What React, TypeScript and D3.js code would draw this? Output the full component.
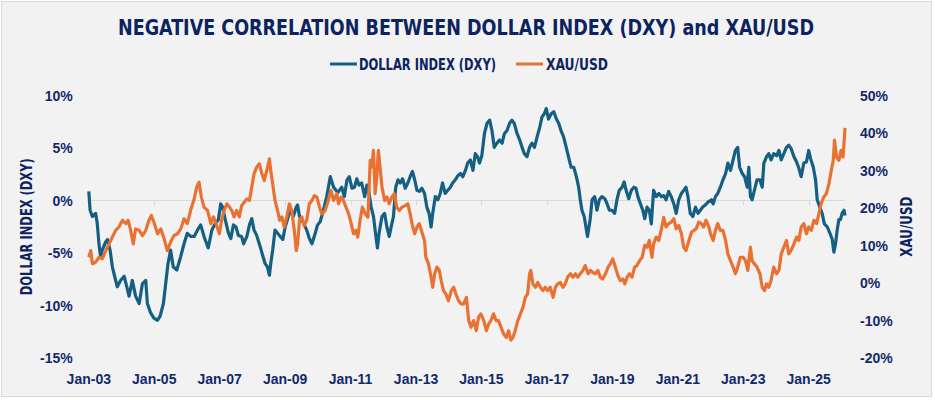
import * as d3 from 'd3';

// [decimal year, % change]
const dxy: [number, number][] = [
  [2003.0, 0.9], [2003.04, -0.9], [2003.11, -1.5], [2003.21, -1.2], [2003.26, -2.2], [2003.31, -4.1], [2003.36, -5.3],
  [2003.41, -4.7], [2003.52, -3.9], [2003.57, -3.7], [2003.65, -4.7], [2003.72, -6.3], [2003.82, -7.6], [2003.87, -8.2],
  [2003.97, -7.6], [2004.08, -7.2], [2004.16, -8.2], [2004.23, -9.1], [2004.33, -7.6], [2004.43, -9.1], [2004.54, -9.8],
  [2004.64, -7.9], [2004.74, -7.6], [2004.79, -9.8], [2004.89, -10.7], [2004.99, -11.2], [2005.1, -11.4], [2005.18, -11.0],
  [2005.28, -9.8], [2005.35, -7.9], [2005.42, -6.0], [2005.5, -4.7], [2005.58, -6.3], [2005.69, -6.6], [2005.81, -5.3],
  [2005.91, -4.1], [2006.01, -3.1], [2006.11, -3.4], [2006.22, -3.4], [2006.32, -2.8], [2006.42, -2.3], [2006.52, -3.4],
  [2006.65, -4.5], [2006.76, -2.8], [2006.86, -2.2], [2006.96, -1.8], [2007.03, -0.3], [2007.09, -0.6], [2007.17, -1.8],
  [2007.27, -3.1], [2007.34, -3.6], [2007.42, -2.3], [2007.5, -2.5], [2007.57, -3.3], [2007.67, -3.4], [2007.73, -4.1],
  [2007.83, -3.4], [2007.91, -2.3], [2007.98, -1.7], [2008.05, -2.8], [2008.13, -3.3], [2008.24, -4.4], [2008.32, -5.3],
  [2008.39, -6.0], [2008.46, -6.3], [2008.52, -7.1], [2008.56, -6.0], [2008.62, -4.7], [2008.69, -2.8], [2008.77, -3.1],
  [2008.85, -3.4], [2008.93, -3.7], [2009.0, -2.5], [2009.07, -1.8], [2009.15, -0.9], [2009.25, -1.5], [2009.34, -0.6],
  [2009.38, -0.4], [2009.44, -1.5], [2009.54, -2.0], [2009.66, -2.8], [2009.74, -3.6], [2009.82, -4.1], [2009.92, -3.1],
  [2009.99, -2.3], [2010.07, -2.0], [2010.17, -0.9], [2010.27, 0.4], [2010.38, 2.3], [2010.48, 1.3], [2010.61, 0.8],
  [2010.73, 1.3], [2010.81, 0.4], [2010.89, 2.0], [2010.96, 2.3], [2011.04, 1.2], [2011.12, 1.3], [2011.19, 2.1],
  [2011.26, 1.5], [2011.34, 1.7], [2011.43, 0.4], [2011.5, 1.5], [2011.55, 1.0], [2011.63, -0.6], [2011.7, -1.5],
  [2011.75, -2.8], [2011.82, -4.5], [2011.87, -3.1], [2011.96, -1.5], [2012.04, -1.2], [2012.11, -2.5], [2012.18, -3.4],
  [2012.24, -2.5], [2012.31, -1.5], [2012.38, 1.3], [2012.45, 2.0], [2012.52, 1.7], [2012.59, 2.1], [2012.67, 1.2],
  [2012.75, 1.7], [2012.82, 2.3], [2012.89, 2.8], [2012.96, 2.0], [2013.03, 1.0], [2013.1, 0.9], [2013.18, 1.2],
  [2013.26, 0.7], [2013.33, -0.6], [2013.4, -1.2], [2013.46, -2.5], [2013.51, -1.2], [2013.59, 0.4], [2013.67, 0.1],
  [2013.74, 0.7], [2013.81, 1.7], [2013.89, 0.7], [2013.97, 1.0], [2014.05, 1.3], [2014.12, 1.7], [2014.2, 2.0],
  [2014.28, 2.4], [2014.36, 2.6], [2014.43, 2.3], [2014.51, 2.9], [2014.58, 3.6], [2014.66, 3.9], [2014.74, 2.9],
  [2014.81, 4.5], [2014.88, 4.2], [2014.94, 3.6], [2015.01, 4.3], [2015.09, 6.4], [2015.17, 7.4], [2015.25, 7.7],
  [2015.32, 6.7], [2015.39, 5.1], [2015.47, 5.5], [2015.55, 5.8], [2015.63, 5.5], [2015.7, 6.4], [2015.78, 6.7],
  [2015.86, 7.4], [2015.93, 7.7], [2016.0, 7.4], [2016.09, 6.4], [2016.17, 5.8], [2016.24, 5.1], [2016.31, 4.5],
  [2016.39, 4.2], [2016.47, 5.1], [2016.54, 5.5], [2016.62, 5.1], [2016.7, 6.1], [2016.78, 7.0], [2016.85, 8.0],
  [2016.92, 8.3], [2016.98, 8.8], [2017.05, 7.8], [2017.13, 8.3], [2017.21, 8.5], [2017.29, 7.8], [2017.36, 7.4],
  [2017.43, 6.7], [2017.51, 6.1], [2017.59, 5.1], [2017.66, 4.2], [2017.74, 3.2], [2017.82, 3.2], [2017.9, 2.3],
  [2017.97, 1.3], [2018.02, 0.1], [2018.07, -0.9], [2018.14, -1.5], [2018.24, -3.4], [2018.32, -1.8], [2018.38, 0.1],
  [2018.46, 0.4], [2018.53, -0.9], [2018.6, 0.1], [2018.68, 0.4], [2018.77, 0.2], [2018.84, -0.3], [2018.91, -0.9],
  [2018.99, -0.9], [2019.07, -1.2], [2019.14, 0.1], [2019.21, 1.0], [2019.3, 1.3], [2019.36, 1.8], [2019.42, 1.0],
  [2019.5, 0.2], [2019.58, 1.0], [2019.66, 1.3], [2019.72, 1.2], [2019.78, 0.4], [2019.86, -0.3], [2019.93, -0.9],
  [2019.99, -1.7], [2020.06, -0.6], [2020.13, -0.9], [2020.19, -2.2], [2020.26, 1.0], [2020.34, 0.4], [2020.42, 0.7],
  [2020.5, 0.4], [2020.57, 0.5], [2020.64, 0.1], [2020.72, 0.9], [2020.8, 0.4], [2020.88, -0.3], [2020.95, -1.2],
  [2021.03, 0.1], [2021.11, 0.7], [2021.18, 1.0], [2021.25, 1.3], [2021.31, 0.4], [2021.38, -1.2], [2021.46, -1.5],
  [2021.54, -0.6], [2021.62, -1.2], [2021.69, -0.9], [2021.76, -0.6], [2021.84, -0.4], [2021.93, -0.1], [2022.03, 0.1],
  [2022.08, -0.3], [2022.15, 0.4], [2022.22, 0.7], [2022.3, 1.3], [2022.38, 2.0], [2022.46, 2.6], [2022.53, 3.6],
  [2022.61, 2.9], [2022.69, 3.9], [2022.76, 4.8], [2022.83, 5.1], [2022.89, 3.2], [2022.97, 2.6], [2023.04, 2.3],
  [2023.12, 1.3], [2023.17, 3.2], [2023.22, 0.4], [2023.27, 0.1], [2023.34, 1.0], [2023.42, 2.0], [2023.51, 2.0],
  [2023.58, 1.3], [2023.63, 3.6], [2023.71, 4.2], [2023.78, 4.5], [2023.85, 3.9], [2023.93, 4.5], [2024.02, 4.3],
  [2024.09, 4.8], [2024.16, 3.9], [2024.24, 4.5], [2024.32, 5.1], [2024.39, 5.3], [2024.46, 5.0], [2024.55, 4.2],
  [2024.63, 3.7], [2024.7, 3.1], [2024.77, 2.3], [2024.85, 3.6], [2024.93, 3.7], [2025.0, 4.8], [2025.06, 4.0],
  [2025.14, 3.2], [2025.21, 2.0], [2025.26, 0.1], [2025.34, -0.6], [2025.41, -1.2], [2025.48, -2.2], [2025.57, -2.5],
  [2025.65, -3.1], [2025.72, -3.7], [2025.77, -4.9], [2025.82, -4.1], [2025.87, -2.8], [2025.92, -1.8], [2025.97, -1.8],
  [2026.02, -1.2], [2026.08, -0.9], [2026.11, -1.4],
];

const xau: [number, number][] = [
  [2003.0, 6.9], [2003.06, 8.7], [2003.11, 5.2], [2003.21, 5.6], [2003.31, 6.9], [2003.41, 6.5], [2003.52, 8.7],
  [2003.62, 10.5], [2003.72, 12.3], [2003.82, 14.1], [2003.92, 15.0], [2004.03, 16.8], [2004.13, 15.9], [2004.2, 16.8],
  [2004.28, 14.1], [2004.36, 10.5], [2004.43, 14.5], [2004.54, 14.1], [2004.64, 12.7], [2004.74, 14.1], [2004.84, 16.8],
  [2004.91, 18.1], [2004.99, 16.3], [2005.1, 13.2], [2005.2, 14.5], [2005.3, 11.9], [2005.4, 8.7], [2005.5, 11.0],
  [2005.6, 12.7], [2005.71, 13.2], [2005.81, 14.5], [2005.91, 17.2], [2006.01, 15.9], [2006.11, 19.4], [2006.22, 22.5],
  [2006.3, 25.7], [2006.37, 27.0], [2006.44, 23.0], [2006.52, 20.3], [2006.63, 19.4], [2006.73, 15.9], [2006.81, 17.7],
  [2006.89, 15.9], [2006.99, 13.2], [2007.06, 16.8], [2007.13, 19.4], [2007.22, 21.2], [2007.3, 20.3], [2007.37, 19.4],
  [2007.44, 17.7], [2007.52, 19.4], [2007.6, 17.7], [2007.67, 20.7], [2007.75, 21.6], [2007.83, 22.5], [2007.91, 22.1],
  [2007.98, 25.7], [2008.05, 29.2], [2008.13, 31.0], [2008.21, 31.9], [2008.29, 29.2], [2008.36, 27.4], [2008.44, 30.1],
  [2008.52, 33.2], [2008.56, 30.1], [2008.62, 26.5], [2008.69, 22.1], [2008.77, 19.4], [2008.83, 16.8], [2008.9, 17.7],
  [2008.97, 15.0], [2009.05, 17.7], [2009.13, 21.2], [2009.2, 19.4], [2009.28, 14.1], [2009.34, 8.7], [2009.38, 10.5],
  [2009.44, 16.8], [2009.51, 17.7], [2009.58, 15.4], [2009.66, 16.8], [2009.74, 21.2], [2009.82, 22.1], [2009.89, 23.4],
  [2009.97, 23.0], [2010.05, 20.3], [2010.12, 18.5], [2010.22, 19.4], [2010.32, 22.1], [2010.4, 24.8], [2010.48, 22.1],
  [2010.58, 23.9], [2010.63, 21.2], [2010.71, 23.0], [2010.78, 22.1], [2010.86, 20.3], [2010.94, 18.5], [2011.02, 15.9],
  [2011.09, 13.2], [2011.16, 14.1], [2011.22, 12.3], [2011.29, 16.8], [2011.36, 20.3], [2011.45, 18.5], [2011.53, 17.6],
  [2011.6, 32.8], [2011.65, 31.0], [2011.7, 35.5], [2011.75, 23.9], [2011.8, 28.3], [2011.85, 35.5], [2011.9, 31.0],
  [2011.96, 25.7], [2012.04, 22.1], [2012.11, 23.0], [2012.18, 21.2], [2012.26, 23.0], [2012.34, 23.9], [2012.41, 20.3],
  [2012.49, 19.4], [2012.57, 20.3], [2012.67, 20.7], [2012.75, 21.2], [2012.82, 18.5], [2012.89, 15.4], [2012.96, 13.2],
  [2013.03, 15.0], [2013.1, 15.9], [2013.18, 13.6], [2013.26, 11.4], [2013.3, 6.9], [2013.38, 5.2], [2013.46, 1.6],
  [2013.51, -1.1], [2013.57, 2.5], [2013.64, 4.3], [2013.71, 3.4], [2013.77, 0.7], [2013.84, -2.0], [2013.91, -2.9],
  [2013.99, -4.7], [2014.08, -2.0], [2014.15, -1.1], [2014.22, -2.9], [2014.3, -4.7], [2014.37, -5.5], [2014.45, -5.6],
  [2014.54, -3.8], [2014.61, -10.0], [2014.68, -11.8], [2014.76, -10.0], [2014.84, -12.7], [2014.91, -9.1], [2014.98, -8.2],
  [2015.07, -10.0], [2015.15, -12.7], [2015.22, -10.9], [2015.29, -10.0], [2015.37, -8.2], [2015.45, -10.0], [2015.52, -10.0],
  [2015.6, -11.8], [2015.68, -13.6], [2015.76, -14.5], [2015.83, -12.7], [2015.9, -15.2], [2015.96, -14.5], [2016.03, -12.7],
  [2016.11, -10.0], [2016.19, -8.2], [2016.27, -6.4], [2016.34, -3.8], [2016.41, -2.9], [2016.47, 2.5], [2016.51, 3.4],
  [2016.57, -0.2], [2016.65, -1.1], [2016.72, 0.2], [2016.8, -1.1], [2016.88, -2.0], [2016.95, -1.1], [2017.02, -2.0],
  [2017.1, -1.1], [2017.19, -3.8], [2017.26, -1.1], [2017.33, -0.2], [2017.41, 0.2], [2017.49, -1.1], [2017.56, -0.2],
  [2017.63, 1.6], [2017.72, 2.5], [2017.8, 1.6], [2017.87, 2.5], [2017.94, 1.6], [2018.02, 2.5], [2018.1, 3.4],
  [2018.17, 4.7], [2018.26, 2.5], [2018.33, 3.4], [2018.4, 2.9], [2018.48, 2.5], [2018.56, 3.4], [2018.63, 1.6],
  [2018.7, 1.1], [2018.79, 2.5], [2018.87, 4.3], [2018.94, 5.2], [2019.01, 6.5], [2019.09, 4.3], [2019.17, 2.0],
  [2019.24, 0.7], [2019.32, 1.1], [2019.38, -0.2], [2019.45, 1.6], [2019.52, 2.5], [2019.6, 1.6], [2019.68, 4.3],
  [2019.75, 4.7], [2019.83, 6.0], [2019.91, 6.9], [2019.99, 10.1], [2020.06, 9.6], [2020.13, 11.4], [2020.21, 6.9],
  [2020.26, 10.5], [2020.34, 12.3], [2020.42, 11.4], [2020.5, 14.5], [2020.57, 17.6], [2020.64, 15.0], [2020.72, 15.9],
  [2020.8, 16.3], [2020.88, 17.2], [2020.95, 14.5], [2021.03, 15.4], [2021.11, 13.2], [2021.18, 9.6], [2021.25, 8.7],
  [2021.34, 11.4], [2021.42, 13.6], [2021.49, 14.1], [2021.56, 14.5], [2021.64, 16.3], [2021.72, 15.9], [2021.79, 15.0],
  [2021.86, 16.8], [2021.95, 15.0], [2022.0, 13.2], [2022.08, 11.4], [2022.15, 14.1], [2022.22, 15.9], [2022.3, 14.1],
  [2022.38, 14.1], [2022.46, 11.4], [2022.53, 7.8], [2022.61, 6.0], [2022.69, 4.3], [2022.76, 2.5], [2022.83, 4.3],
  [2022.91, 6.9], [2023.0, 6.9], [2023.07, 6.0], [2023.14, 3.4], [2023.22, 9.6], [2023.27, 6.0], [2023.34, 5.2],
  [2023.42, 4.3], [2023.51, 2.5], [2023.58, -1.1], [2023.65, -2.0], [2023.71, -0.2], [2023.78, -1.1], [2023.85, 0.7],
  [2023.93, 4.3], [2024.02, 2.5], [2024.09, 3.4], [2024.16, 7.8], [2024.24, 9.6], [2024.32, 11.4], [2024.39, 7.8],
  [2024.46, 8.7], [2024.55, 10.5], [2024.63, 12.3], [2024.7, 11.4], [2024.77, 15.0], [2024.85, 15.9], [2024.93, 13.2],
  [2025.0, 15.0], [2025.08, 14.1], [2025.16, 16.8], [2025.24, 15.9], [2025.31, 18.5], [2025.38, 21.2], [2025.46, 23.0],
  [2025.54, 23.9], [2025.62, 26.6], [2025.69, 30.1], [2025.75, 32.8], [2025.79, 38.2], [2025.85, 33.7], [2025.92, 32.8],
  [2025.99, 35.5], [2026.05, 33.7], [2026.11, 41.5],
];

const tickYears = [2003, 2005, 2007, 2009, 2011, 2013, 2015, 2017, 2019, 2021, 2023, 2025];
const tickLabels = ['Jan-03', 'Jan-05', 'Jan-07', 'Jan-09', 'Jan-11', 'Jan-13', 'Jan-15', 'Jan-17', 'Jan-19', 'Jan-21', 'Jan-23', 'Jan-25'];
const leftTicks = [10, 5, 0, -5, -10, -15];
const rightTicks = [50, 40, 30, 20, 10, 0, -10, -20];

const TITLE = 'NEGATIVE CORRELATION BETWEEN DOLLAR INDEX (DXY) and XAU/USD';
const NAVY = '#0c2360';
const LABEL = '#13296a';
const BLUE = '#156082';
const ORANGE = '#e97132';
const NARROW = "'Liberation Sans Narrow', 'Arial Narrow', 'DejaVu Sans Condensed', 'Liberation Sans', sans-serif";
const SANS = "'Liberation Sans', Arial, sans-serif";

const App = () => {
  const x = d3.scaleLinear().domain([2003, 2025]).range([88.8, 808.7]);
  const yL = d3.scaleLinear().domain([-15, 10]).range([358, 96]);
  const yR = d3.scaleLinear().domain([-20, 50]).range([358, 96]);

  const lineL = d3.line<[number, number]>().x(d => x(d[0])).y(d => yL(d[1]));
  const lineR = d3.line<[number, number]>().x(d => x(d[0])).y(d => yR(d[1]));

  const y0 = Math.round(yL(0)) - 0.5;
  const xEnd = x(dxy[dxy.length - 1][0]);

  return (
    <svg width={935} height={400} style={{ position: 'absolute', left: 0, top: 0, display: 'block' }}>
      <rect x={1.5} y={1.5} width={930} height={395} fill="#f2f2f2" stroke="#d9d9d9" />

      <text x={466} y={35} textAnchor="middle" fontFamily={NARROW} fontWeight="bold" fontSize={22}
        fill={NAVY} textLength={696} lengthAdjust="spacingAndGlyphs">{TITLE}</text>

      {/* legend */}
      <line x1={330} x2={357} y1={64} y2={64} stroke={BLUE} strokeWidth={3} />
      <text x={359} y={69.5} fontFamily={NARROW} fontWeight="bold" fontSize={15} fill={NAVY}
        textLength={137} lengthAdjust="spacingAndGlyphs">DOLLAR INDEX (DXY)</text>
      <line x1={516} x2={543} y1={64} y2={64} stroke={ORANGE} strokeWidth={3} />
      <text x={546} y={69.5} fontFamily={NARROW} fontWeight="bold" fontSize={15} fill={NAVY}
        textLength={62} lengthAdjust="spacingAndGlyphs">XAU/USD</text>

      {/* zero line with date ticks */}
      <line x1={x(2003)} x2={xEnd} y1={y0} y2={y0} stroke="#d9d9d9" strokeWidth={1} />
      {tickYears.map(t => (
        <line key={t} x1={Math.round(x(t)) + 0.5} x2={Math.round(x(t)) + 0.5} y1={y0} y2={y0 + 5} stroke="#d9d9d9" />
      ))}

      <path d={lineL(dxy) ?? ''} fill="none" stroke={BLUE} strokeWidth={3.2} strokeLinejoin="round" />
      <path d={lineR(xau) ?? ''} fill="none" stroke={ORANGE} strokeWidth={3.2} strokeLinejoin="round" />

      {leftTicks.map(t => (
        <text key={t} x={72.7} y={yL(t) + 5} textAnchor="end" fontFamily={SANS} fontWeight="bold" fontSize={14} fill={LABEL}>
          {`${t}%`}
        </text>
      ))}
      {rightTicks.map(t => (
        <text key={t} x={860} y={yR(t) + 5} fontFamily={SANS} fontWeight="bold" fontSize={14} fill={LABEL}>
          {`${t}%`}
        </text>
      ))}
      {tickYears.map((t, i) => (
        <text key={t} x={x(t)} y={384} textAnchor="middle" fontFamily={SANS} fontWeight="bold" fontSize={14} fill={LABEL}>
          {tickLabels[i]}
        </text>
      ))}

      <text transform="translate(32.3,226.7) rotate(-90)" textAnchor="middle" fontFamily={NARROW} fontWeight="bold"
        fontSize={15} fill={NAVY} textLength={137} lengthAdjust="spacingAndGlyphs">DOLLAR INDEX (DXY)</text>
      <text transform="translate(911.5,226.7) rotate(-90)" textAnchor="middle" fontFamily={NARROW} fontWeight="bold"
        fontSize={15} fill={NAVY} textLength={60} lengthAdjust="spacingAndGlyphs">XAU/USD</text>
    </svg>
  );
};

export default App;
